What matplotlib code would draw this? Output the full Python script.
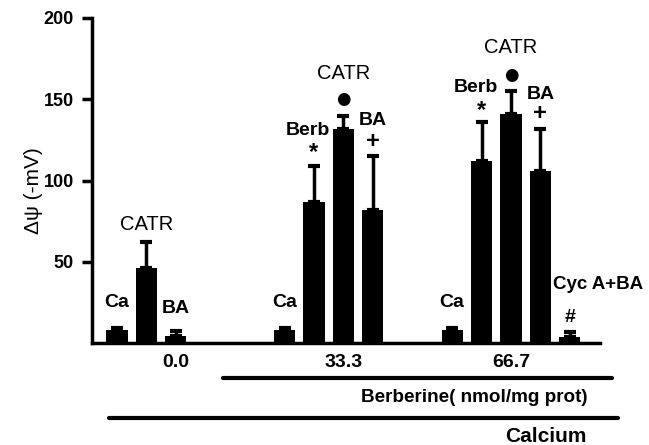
import numpy as np
import matplotlib
matplotlib.use("Agg")
import matplotlib.pyplot as plt
from matplotlib.lines import Line2D

plt.rcParams['font.family'] = ['Liberation Sans', 'DejaVu Sans']

# membrane potential values (-mV) and upper SE
ctrl_vals = [8, 46, 4.5]
ctrl_err = [1, 16, 3]
berb33_vals = [8, 87, 132, 82]
berb33_err = [1, 22, 7.5, 33]
berb67_vals = [8, 112, 141, 106, 4]
berb67_err = [1, 24, 14, 26, 3]

dose_labels = ["0.0", "33.3", "66.7"]
dose_tick_bar = [2, 2, 2]  # which bar of each group carries the dose label

# bar annotations: (label, label y, symbol, symbol y)
ctrl_notes = [("Ca", 25, "", 0), ("CATR", 73, "", 0), ("BA", 21, "", 0)]
berb33_notes = [("Ca", 25, "", 0), ("Berb", 131, "*", 117),
                ("CATR", 166, "\u25CF", 150), ("BA", 137, "+", 124)]
berb67_notes = [("Ca", 25, "", 0), ("Berb", 157, "*", 143),
                ("CATR", 182, "\u25CF", 165), ("BA", 153, "+", 141),
                ("Cyc A+BA", 36, "#", 16)]

groups = [(ctrl_vals, ctrl_err, ctrl_notes),
          (berb33_vals, berb33_err, berb33_notes),
          (berb67_vals, berb67_err, berb67_notes)]
group_start = [0, 5.7, 11.4]
bar_w = 0.72
sym_size = {"*": 17, "+": 17, "#": 14, "\u25CF": 12}

fig = plt.figure(figsize=(6.49, 4.45), dpi=100)
ax = fig.add_axes([92 / 649, 1 - 343 / 445, 508 / 649, 325 / 445])

tick_pos = []
for g, (vals, errs, notes) in enumerate(groups):
    x = group_start[g] + np.arange(len(vals))
    ax.bar(x, vals, width=bar_w, color="black", zorder=2)
    ax.errorbar(x, vals, yerr=[np.zeros(len(errs)), errs], fmt="none", ecolor="black",
                elinewidth=2.5, capsize=4, capthick=3, zorder=2)
    for i, (txt, ty, sym, sy) in enumerate(notes):
        if txt == "Cyc A+BA":
            ax.text(x[i] - 0.57, ty, txt, ha="left", va="center", fontsize=13.5,
                    fontweight="bold", clip_on=False)
        else:
            dx = -0.2 if txt == "Berb" else 0.0
            ax.text(x[i] + dx, ty, txt, ha="center", va="center",
                    fontsize=14 if txt != "CATR" else 14.5,
                    fontweight="normal" if txt == "CATR" else "bold", clip_on=False)
        if sym:
            ax.text(x[i], sy, sym, ha="center", va="center", fontsize=sym_size[sym],
                    fontweight="bold", family=["DejaVu Sans"] if sym == "\u25CF" else None,
                    clip_on=False)
    tick_pos.append(x[dose_tick_bar[g]])

ax.set_xlim(-0.85, 16.43)
ax.set_ylim(0, 200)
ax.set_yticks([50, 100, 150, 200])
ax.set_xticks(tick_pos)
ax.set_xticklabels(dose_labels)
for lab in ax.get_yticklabels():
    lab.set_fontweight("bold")
    lab.set_fontsize(13)
for lab in ax.get_xticklabels():
    lab.set_fontweight("bold")
    lab.set_fontsize(14)
ax.tick_params(axis="x", length=0, pad=8)
ax.tick_params(axis="y", length=7, width=2.5, direction="out", pad=6)
ax.spines["right"].set_visible(False)
ax.spines["top"].set_visible(False)
ax.spines["left"].set_linewidth(2.5)
ax.spines["bottom"].set_linewidth(2.5)
ax.set_ylabel("\u0394\u03c8 (-mV)", fontsize=15)
ax.yaxis.set_label_coords(-0.097, 0.47)

# grouping lines below the axis
fig.add_artist(Line2D([223 / 649, 612 / 649], [1 - 378 / 445] * 2, color="black",
                      linewidth=3, solid_capstyle="round"))
fig.add_artist(Line2D([109 / 649, 618 / 649], [1 - 418 / 445] * 2, color="black",
                      linewidth=3, solid_capstyle="round"))
fig.text(588 / 649, 1 - 398 / 445, "Berberine( nmol/mg prot)", ha="right", va="center",
         fontsize=13.6, fontweight="bold")
fig.text(586 / 649, 1 - 442 / 445, "Calcium", ha="right", va="baseline",
         fontsize=15, fontweight="bold")

fig.savefig("out.png", dpi=100)
